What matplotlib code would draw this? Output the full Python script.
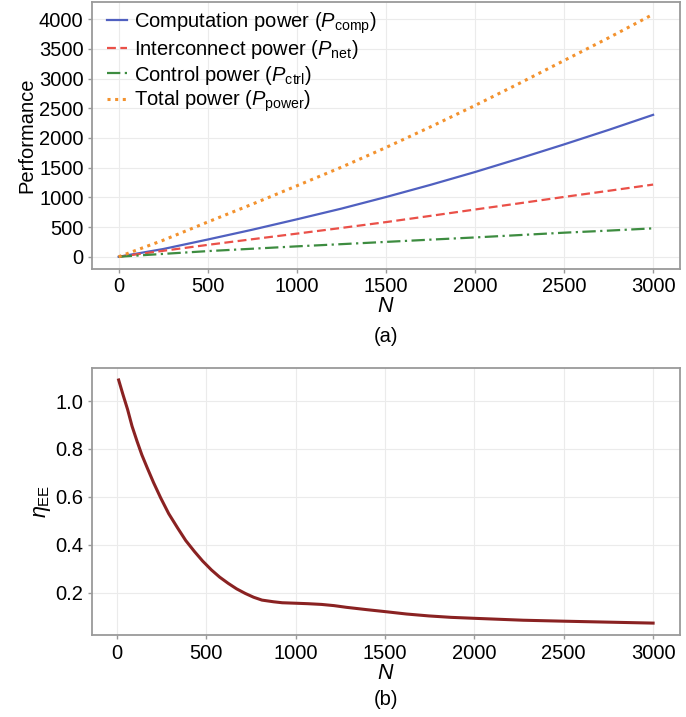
import numpy as np
import matplotlib
matplotlib.use("Agg")
import matplotlib.pyplot as plt

plt.rcParams['font.family'] = ['Liberation Sans', 'DejaVu Sans']
plt.rcParams['mathtext.fontset'] = 'custom'
plt.rcParams['mathtext.rm'] = 'Liberation Sans'
plt.rcParams['mathtext.it'] = 'Liberation Sans:italic'

# data
n_vals = [0, 250, 500, 750, 1000, 1250, 1500, 1750, 2000, 2250, 2500, 2750, 3000]
p_comp = [0, 130, 290, 455, 630, 810, 1005, 1210, 1426, 1655, 1891, 2135, 2389]
p_net = [0, 100, 200, 295, 389, 485, 583, 688, 795, 900, 1007, 1110, 1215]
p_ctrl = [0, 48, 95, 135, 175, 212, 250, 288, 325, 365, 405, 440, 478]
p_total = [a + b + c for a, b, c in zip(p_comp, p_net, p_ctrl)]

n_ee = [10, 35, 60, 85, 113, 140, 170, 205, 245, 290, 340, 385, 434, 480, 529,
        575, 623, 670, 718, 765, 812, 877, 925, 1000, 1070, 1145, 1215, 1283,
        1400, 1500, 1620, 1745, 1870, 2000, 2274, 2500, 2750, 3000]
eta_ee = [1.088, 1.025, 0.965, 0.895, 0.832, 0.775, 0.721, 0.660, 0.596, 0.530,
          0.470, 0.418, 0.372, 0.332, 0.295, 0.265, 0.239, 0.216, 0.197, 0.181,
          0.169, 0.162, 0.158, 0.156, 0.154, 0.151, 0.146, 0.139, 0.129, 0.121,
          0.111, 0.103, 0.097, 0.093, 0.085, 0.081, 0.077, 0.073]

spine_c = '#9a9a9a'
grid_c = '#ebebeb'

def style_axes(ax):
    for s in ax.spines.values():
        s.set_color(spine_c)
        s.set_linewidth(1.3)
    ax.grid(True, color=grid_c, linewidth=0.8)
    ax.set_axisbelow(True)
    ax.tick_params(colors=spine_c, labelcolor='black', labelsize=14.5, length=3, width=1, pad=3)
    ax.set_xticks([0, 500, 1000, 1500, 2000, 2500, 3000])

fig = plt.figure(figsize=(6.86, 7.17), dpi=100)
ax1 = fig.add_axes([0.134, 0.625, 0.857, 0.372])
ax2 = fig.add_axes([0.134, 0.114, 0.857, 0.373])

ax1.plot(n_vals, p_comp, color='#5060c0', lw=1.6, label=r'Computation power ($P_{\rm comp}$)')
ax1.plot(n_vals, p_net, color='#ea5048', lw=1.6, ls=(0, (4, 2)), label=r'Interconnect power ($P_{\rm net}$)')
ax1.plot(n_vals, p_ctrl, color='#3d8c40', lw=1.6, ls=(0, (6, 2, 1, 2)), label=r'Control power ($P_{\rm ctrl}$)')
ax1.plot(n_vals, p_total, color='#f3922e', lw=2.2, ls=(0, (1, 1.5)), label=r'Total power ($P_{\rm power}$)')
style_axes(ax1)
ax1.set_yticks([0, 500, 1000, 1500, 2000, 2500, 3000, 3500, 4000])
ax1.set_ylabel('Performance', fontsize=14.5, labelpad=2)
ax1.set_xlabel('$N$', fontsize=15.5, labelpad=0)
ax1.legend(loc='upper left', frameon=False, fontsize=14.5, handlelength=1.0,
           handletextpad=0.35, labelspacing=0.12, borderaxespad=0.0,
           bbox_to_anchor=(0.012, 1.0))

ax2.plot(n_ee, eta_ee, color='#8a2222', lw=2.2)
style_axes(ax2)
ax2.set_yticks([0.2, 0.4, 0.6, 0.8, 1.0])
ax2.set_ylabel(r'$\eta_{\rm EE}$', fontsize=15.5, labelpad=2)
ax2.set_xlabel('$N$', fontsize=15.5, labelpad=0)

fig.text(0.563, 0.53, '(a)', ha='center', va='center', fontsize=14.5)
fig.text(0.563, 0.024, '(b)', ha='center', va='center', fontsize=14.5)

fig.savefig('out.png', dpi=100)
